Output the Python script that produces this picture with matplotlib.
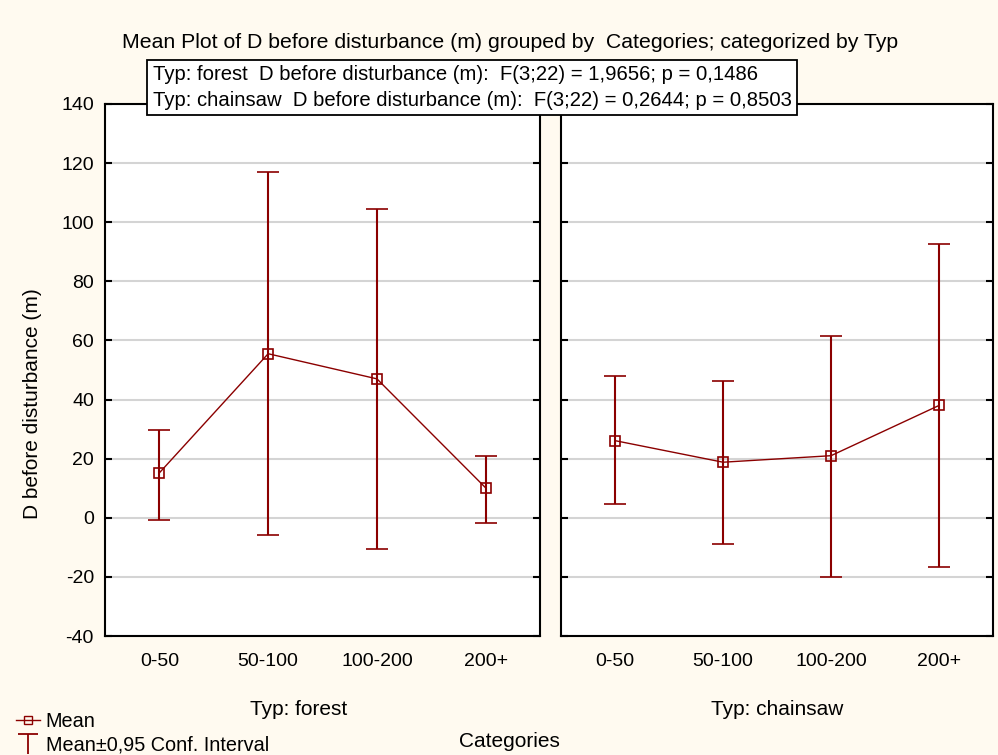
import matplotlib.pyplot as plt
from matplotlib.lines import Line2D
from matplotlib.path import Path

plt.rcParams['font.family'] = ['Liberation Sans', 'DejaVu Sans']
plt.rcParams['axes.unicode_minus'] = False

categories = ['0-50', '50-100', '100-200', '200+']

forest_mean = [15.2, 55.5, 47.0, 10.1]
forest_upper = [29.8, 117.0, 104.5, 20.8]
forest_lower = [-0.6, -5.7, -10.5, -1.6]

chainsaw_mean = [26.1, 18.8, 21.0, 38.0]
chainsaw_upper = [48.0, 46.4, 61.6, 92.5]
chainsaw_lower = [4.6, -9.0, -20.0, -16.7]

panels = [('Typ: forest', forest_mean, forest_lower, forest_upper),
          ('Typ: chainsaw', chainsaw_mean, chainsaw_lower, chainsaw_upper)]

red = '#8b0000'
fig = plt.figure(figsize=(9.98, 7.55), dpi=100, facecolor='#fffaf0')

boxes = [[0.1052, 0.1576, 0.436, 0.7047], [0.5621, 0.1576, 0.4329, 0.7047]]
label_x = [0.299, 0.779]

for i, (name, mean, low, up) in enumerate(panels):
    ax = fig.add_axes(boxes[i])
    ax.set_facecolor('white')
    x = [k + 0.5 for k in range(len(categories))]
    err = [[m - l for m, l in zip(mean, low)], [u - m for m, u in zip(mean, up)]]
    ax.errorbar(x, mean, yerr=err, color=red, lw=1, elinewidth=1.5, capsize=8,
                capthick=1.5, marker='s', ms=6.5, mfc='none', mec=red, mew=1.2)
    ax.set_xlim(0, 4)
    ax.set_ylim(-40, 140)
    ax.set_yticks(range(-40, 141, 20))
    ax.set_xticks(x)
    ax.set_xticklabels(categories, fontsize=14)
    ax.tick_params(axis='x', length=0, pad=12)
    ax.tick_params(axis='y', direction='in', length=5, width=1.5, right=True,
                   labelsize=14, pad=8)
    if i > 0:
        ax.tick_params(axis='y', labelleft=False)
    ax.yaxis.grid(True, color='#d4d4d4', lw=1.5)
    ax.set_axisbelow(True)
    for s in ax.spines.values():
        s.set_linewidth(1.5)
    fig.text(label_x[i], 0.060, name, ha='center', va='center', fontsize=15)

fig.text(0.033, 0.466, 'D before disturbance (m)', rotation=90, ha='center',
         va='center', fontsize=15)
fig.text(0.511, 0.944, 'Mean Plot of D before disturbance (m) grouped by  Categories; categorized by Typ',
         ha='center', va='center', fontsize=15.3)
fig.text(0.153, 0.884,
         'Typ: forest  D before disturbance (m):  F(3;22) = 1,9656; p = 0,1486\n'
         'Typ: chainsaw  D before disturbance (m):  F(3;22) = 0,2644; p = 0,8503',
         ha='left', va='center', fontsize=14.6, linespacing=1.42,
         bbox=dict(boxstyle='square,pad=0.28', fc='white', ec='black', lw=1.3))
fig.text(0.51, 0.018, 'Categories', ha='center', va='center', fontsize=15)

tee = Path([(-1, 1), (1, 1), (0, 1), (0, -1)],
           [Path.MOVETO, Path.LINETO, Path.MOVETO, Path.LINETO])
handles = [Line2D([], [], color=red, marker='s', mfc='none', ms=6, lw=1),
           Line2D([], [], color=red, marker=tee, ms=14, mew=1.3, ls='none')]
fig.legend(handles, ['Mean', 'Mean±0,95 Conf. Interval'], loc='lower left',
           bbox_to_anchor=(0.008, -0.010), frameon=False, fontsize=14.3,
           handlelength=1.2, handletextpad=0.3, labelspacing=0.25,
           borderaxespad=0)

fig.savefig('out.png', dpi=100, facecolor=fig.get_facecolor())
